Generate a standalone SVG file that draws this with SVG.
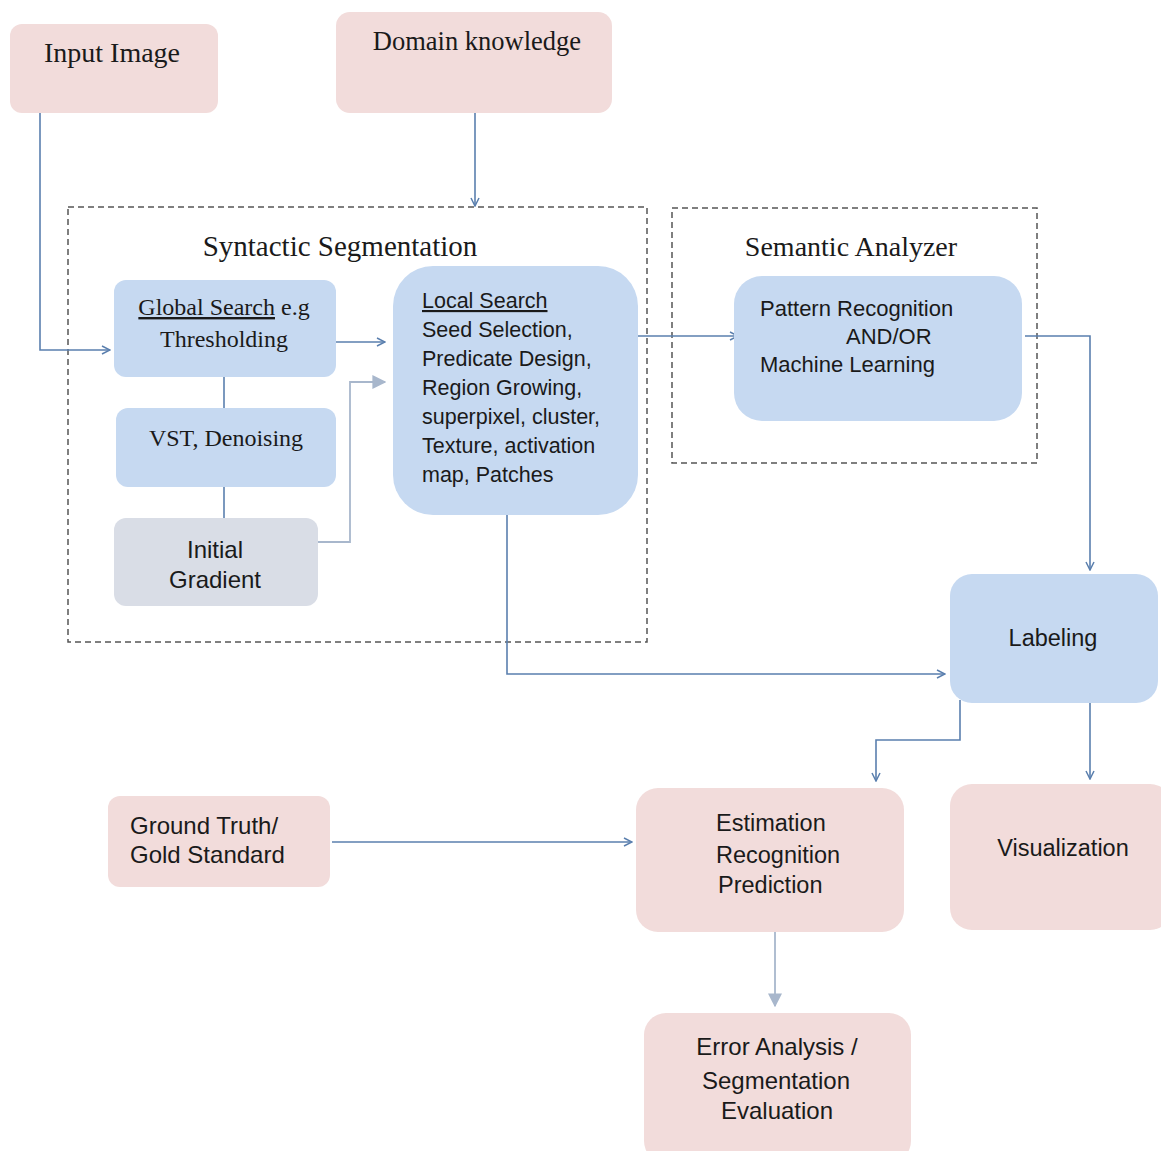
<svg xmlns="http://www.w3.org/2000/svg" width="1161" height="1151" viewBox="0 0 1161 1151">
<defs>
<style>
.pink{fill:#f2dcdb;}
.blue{fill:#c6d9f1;}
.gray{fill:#d9dde6;}
.serif{font-family:"Liberation Serif","Times New Roman",serif;fill:#1a1a1a;}
.sans{font-family:"Liberation Sans",Arial,sans-serif;fill:#1a1a1a;}
.conn{fill:none;stroke:#5a7fae;stroke-width:1.6;}
.connl{fill:none;stroke:#a8b7cc;stroke-width:1.8;}
.dash{fill:none;stroke:#555;stroke-width:1.5;stroke-dasharray:6 4;}
</style>
<marker id="open" viewBox="0 0 10 10" refX="9" refY="5" markerWidth="10" markerHeight="10" markerUnits="userSpaceOnUse" orient="auto">
<path d="M1,1 L9,5 L1,9" fill="none" stroke="#5a7fae" stroke-width="1.5"/>
</marker>
<marker id="solid" viewBox="0 0 10 10" refX="9" refY="5" markerWidth="14" markerHeight="14" markerUnits="userSpaceOnUse" orient="auto">
<path d="M0,0 L10,5 L0,10 Z" fill="#a8b7cc"/>
</marker>
</defs>
<rect width="1161" height="1151" fill="#ffffff"/>

<g id="containers">
<rect class="dash" x="68" y="207" width="579" height="435"/>
<text class="serif" x="340" y="256" font-size="29" text-anchor="middle">Syntactic Segmentation</text>
<rect class="dash" x="672" y="208" width="365" height="255"/>
<text class="serif" x="851" y="256" font-size="28" text-anchor="middle">Semantic Analyzer</text>
</g>

<g id="connectors">
<path class="conn" d="M40,113 V350 H110" marker-end="url(#open)"/>
<path class="conn" d="M475,113 V206" marker-end="url(#open)"/>
<path class="conn" d="M224,377 V408"/>
<path class="conn" d="M224,487 V518"/>
<path class="conn" d="M334,342 H385" marker-end="url(#open)"/>
<path class="connl" d="M318,542 H350 V382 H385" marker-end="url(#solid)"/>
<path class="conn" d="M633,336 H738" marker-end="url(#open)"/>
<path class="conn" d="M507,508 V674 H945" marker-end="url(#open)"/>
<path class="conn" d="M1025,336 H1090 V570" marker-end="url(#open)"/>
<path class="conn" d="M960,700 V740 H876 V781" marker-end="url(#open)"/>
<path class="conn" d="M1090,700 V779" marker-end="url(#open)"/>
<path class="conn" d="M332,842 H632" marker-end="url(#open)"/>
<path class="connl" d="M775,932 V1006" marker-end="url(#solid)"/>
</g>

<g id="input-image">
<rect class="pink" x="10" y="24" width="208" height="89" rx="12"/>
<text class="serif" x="112" y="62" font-size="28" text-anchor="middle">Input Image</text>
</g>

<g id="domain-knowledge">
<rect class="pink" x="336" y="12" width="276" height="101" rx="14"/>
<text class="serif" x="477" y="50" font-size="26.5" text-anchor="middle">Domain knowledge</text>
</g>

<g id="global-search">
<rect class="blue" x="114" y="280" width="222" height="97" rx="12"/>
<text class="serif" x="224" y="315" font-size="24" text-anchor="middle"><tspan text-decoration="underline">Global Search</tspan> e.g</text>
<text class="serif" x="224" y="347" font-size="24" text-anchor="middle">Thresholding</text>
</g>

<g id="vst-denoising">
<rect class="blue" x="116" y="408" width="220" height="79" rx="12"/>
<text class="serif" x="226" y="446" font-size="24" text-anchor="middle">VST, Denoising</text>
</g>

<g id="initial-gradient">
<rect class="gray" x="114" y="518" width="204" height="88" rx="12"/>
<text class="sans" x="215" y="558" font-size="24" text-anchor="middle">Initial</text>
<text class="sans" x="215" y="588" font-size="24" text-anchor="middle">Gradient</text>
</g>

<g id="local-search">
<rect class="blue" x="393" y="266" width="245" height="249" rx="40"/>
<text class="sans" x="422" y="308" font-size="21.5"><tspan text-decoration="underline">Local Search</tspan></text>
<text class="sans" x="422" y="337" font-size="21.5">Seed Selection,</text>
<text class="sans" x="422" y="366" font-size="21.5">Predicate Design,</text>
<text class="sans" x="422" y="395" font-size="21.5">Region Growing,</text>
<text class="sans" x="422" y="424" font-size="21.5">superpixel, cluster,</text>
<text class="sans" x="422" y="453" font-size="21.5">Texture, activation</text>
<text class="sans" x="422" y="482" font-size="21.5">map, Patches</text>
</g>

<g id="pattern-recognition">
<rect class="blue" x="734" y="276" width="288" height="145" rx="28"/>
<text class="sans" x="760" y="316" font-size="22">Pattern Recognition</text>
<text class="sans" x="846" y="344" font-size="22">AND/OR</text>
<text class="sans" x="760" y="372" font-size="22">Machine Learning</text>
</g>

<g id="labeling">
<rect class="blue" x="950" y="574" width="208" height="129" rx="22"/>
<text class="sans" x="1053" y="646" font-size="23.5" text-anchor="middle">Labeling</text>
</g>

<g id="ground-truth">
<rect class="pink" x="108" y="796" width="222" height="91" rx="12"/>
<text class="sans" x="130" y="834" font-size="24">Ground Truth/</text>
<text class="sans" x="130" y="863" font-size="24">Gold Standard</text>
</g>

<g id="estimation">
<rect class="pink" x="636" y="788" width="268" height="144" rx="22"/>
<text class="sans" x="716" y="831" font-size="23.5">Estimation</text>
<text class="sans" x="716" y="863" font-size="23.5">Recognition</text>
<text class="sans" x="718" y="893" font-size="23.5">Prediction</text>
</g>

<g id="visualization">
<rect class="pink" x="950" y="784" width="222" height="146" rx="22"/>
<text class="sans" x="1063" y="856" font-size="23.5" text-anchor="middle">Visualization</text>
</g>

<g id="error-analysis">
<rect class="pink" x="644" y="1013" width="267" height="150" rx="22"/>
<text class="sans" x="777" y="1055" font-size="24" text-anchor="middle">Error Analysis /</text>
<text class="sans" x="776" y="1089" font-size="24" text-anchor="middle">Segmentation</text>
<text class="sans" x="777" y="1119" font-size="24" text-anchor="middle">Evaluation</text>
</g>
</svg>
